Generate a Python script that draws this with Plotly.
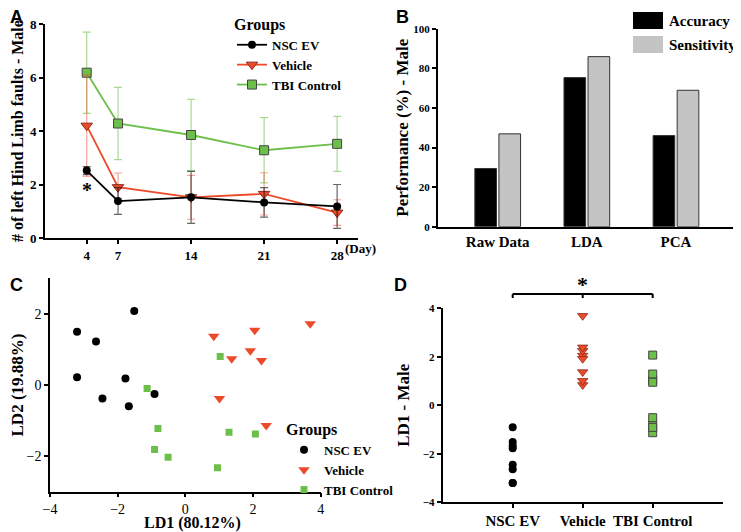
import plotly.graph_objects as go
from plotly.subplots import make_subplots

# panel A - limb faults over days
days = [4, 7, 14, 21, 28]
nsc_mean = [2.52, 1.38, 1.52, 1.33, 1.18]
nsc_err = [0.15, 0.5, 0.97, 0.55, 0.82]
veh_mean = [4.2, 1.9, 1.52, 1.65, 0.95]
veh_err = [1.9, 0.53, 0.82, 0.79, 0.48]
tbi_mean = [6.18, 4.28, 3.85, 3.28, 3.52]
tbi_err = [1.52, 1.35, 1.33, 1.22, 1.03]

# panel B - classifier performance
methods = ['Raw Data', 'LDA', 'PCA']
accuracy = [29.4, 75.3, 46.0]
sensitivity = [46.9, 85.9, 68.9]

# panel C / D - LDA scores
nsc_ld1 = [-3.20, -1.51, -2.64, -3.20, -1.77, -2.45, -1.67, -0.91]
nsc_ld2 = [1.50, 2.08, 1.22, 0.22, 0.18, -0.38, -0.60, -0.25]
veh_ld1 = [0.84, 2.05, 3.69, 1.92, 1.37, 2.25, 1.01, 2.39]
veh_ld2 = [1.37, 1.54, 1.72, 0.96, 0.74, 0.69, -0.38, -1.14]
tbi_ld1 = [1.03, -1.13, -0.81, 1.29, 2.07, -0.91, -0.51, 0.95]
tbi_ld2 = [0.80, -0.10, -1.22, -1.33, -1.38, -1.81, -2.03, -2.33]
groups = ['NSC EV', 'Vehicle', 'TBI Control']

BLACK = '#000000'
RED = '#ec4a2a'
GREEN = '#6cc04a'
SERIF = 'Liberation Serif'
SANS = 'Liberation Sans'

# page body has an 8px margin, so the figure is 8px smaller than the window
W, H, OFF = 733, 524, 8


def px(x):
    return (x - OFF) / W


def py(y):
    return 1 - (y - OFF) / H


fig = make_subplots(rows=2, cols=2)

# A
fig.add_trace(go.Scatter(x=days, y=tbi_mean, name='TBI Control', mode='lines+markers',
                         line=dict(color=GREEN, width=1.8),
                         marker=dict(symbol='square', size=9, color=GREEN, line=dict(color='#444', width=1)),
                         error_y=dict(type='data', array=tbi_err, color='rgba(108,192,74,0.6)', thickness=1.2, width=4),
                         legend='legend', legendrank=3), row=1, col=1)
fig.add_trace(go.Scatter(x=days, y=veh_mean, name='Vehicle', mode='lines+markers',
                         line=dict(color=RED, width=1.8),
                         marker=dict(symbol='triangle-down', size=10, color=RED, line=dict(color='#8a2a18', width=1)),
                         error_y=dict(type='data', array=veh_err, color='rgba(236,74,42,0.5)', thickness=1.2, width=4),
                         legend='legend', legendrank=2), row=1, col=1)
fig.add_trace(go.Scatter(x=days, y=nsc_mean, name='NSC EV', mode='lines+markers',
                         line=dict(color=BLACK, width=1.8),
                         marker=dict(symbol='circle', size=8, color=BLACK),
                         error_y=dict(type='data', array=nsc_err, color='rgba(0,0,0,0.6)', thickness=1.2, width=4),
                         legend='legend', legendrank=1), row=1, col=1)

# B
fig.add_trace(go.Bar(x=methods, y=accuracy, name='Accuracy', marker=dict(color='black', line=dict(color='#333', width=1)),
                     showlegend=False), row=1, col=2)
fig.add_trace(go.Bar(x=methods, y=sensitivity, name='Sensitivity', marker=dict(color='#c4c4c4', line=dict(color='#333', width=1)),
                     showlegend=False), row=1, col=2)

# C
fig.add_trace(go.Scatter(x=nsc_ld1, y=nsc_ld2, name='NSC EV', mode='markers',
                         marker=dict(symbol='circle', size=8, color=BLACK), legend='legend2'), row=2, col=1)
fig.add_trace(go.Scatter(x=veh_ld1, y=veh_ld2, name='Vehicle', mode='markers',
                         marker=dict(symbol='triangle-down', size=10, color=RED), legend='legend2'), row=2, col=1)
fig.add_trace(go.Scatter(x=tbi_ld1, y=tbi_ld2, name='TBI Control', mode='markers',
                         marker=dict(symbol='square', size=7, color=GREEN), legend='legend2'), row=2, col=1)

# D
fig.add_trace(go.Scatter(x=[groups[0]] * len(nsc_ld1), y=nsc_ld1, mode='markers', showlegend=False,
                         marker=dict(symbol='circle', size=8, color=BLACK)), row=2, col=2)
fig.add_trace(go.Scatter(x=[groups[1]] * len(veh_ld1), y=veh_ld1, mode='markers', showlegend=False,
                         marker=dict(symbol='triangle-down', size=9, color=RED, line=dict(color='#8a2a18', width=0.8))), row=2, col=2)
fig.add_trace(go.Scatter(x=[groups[2]] * len(tbi_ld1), y=tbi_ld1, mode='markers', showlegend=False,
                         marker=dict(symbol='square', size=8, color=GREEN, line=dict(color='#444', width=1))), row=2, col=2)

tickf = dict(family=SERIF, size=13, color='black', weight='bold')
titlef = dict(family=SERIF, size=17, color='black', weight='bold')
ax = dict(showgrid=False, zeroline=False, showline=True, linecolor='black', linewidth=2, automargin=False,
          ticks='outside', ticklen=4, tickwidth=1.5, tickcolor='black', tickfont=tickf, tickangle=0)

fig.update_layout(
    width=W, height=H, margin=dict(l=0, r=0, t=0, b=0),
    plot_bgcolor='white', paper_bgcolor='white',
    barmode='group', bargap=0.46, bargroupgap=0.1,
    xaxis=dict(ax, domain=[px(45), px(358)], range=[0, 30], tickvals=days),
    yaxis=dict(ax, domain=[py(238), py(24)], range=[0, 8], dtick=2,
               title=dict(text='# of left Hind Limb faults - Male', font=dict(titlef, size=16), standoff=2)),
    xaxis2=dict(ax, domain=[px(438), px(733)], range=[-0.67, 2.64], ticks='',
                tickfont=dict(family=SERIF, size=15, color='black', weight='bold')),
    yaxis2=dict(ax, domain=[py(226.7), py(28.7)], range=[0, 100], dtick=20,
                tickfont=dict(family=SERIF, size=11, color='black', weight='bold'),
                title=dict(text='Performance (%) - Male', font=titlef, standoff=0)),
    xaxis3=dict(ax, domain=[px(50), px(320.7)], range=[-4, 4], dtick=2, linewidth=1.5,
                tickfont=dict(family=SERIF, size=14, color='black')),
    yaxis3=dict(ax, domain=[py(491.7), py(278.3)], range=[-3, 3], dtick=2, linewidth=1.5,
                tickfont=dict(family=SERIF, size=14, color='black'),
                title=dict(text='LD2 (19.88%)', font=titlef, standoff=7)),
    xaxis4=dict(ax, domain=[px(442.7), px(722.7)], range=[-1, 3], type='category',
                tickfont=dict(family=SERIF, size=15, color='black', weight='bold')),
    yaxis4=dict(ax, domain=[py(502.3), py(308.3)], range=[-4, 4], dtick=2,
                tickfont=dict(family=SERIF, size=11, color='black', weight='bold'),
                title=dict(text='LD1 - Male', font=titlef, standoff=9)),
    legend=dict(x=px(232), y=py(9), xanchor='left', yanchor='top', bgcolor='rgba(0,0,0,0)',
                title=dict(text='Groups', font=dict(family=SERIF, size=16, color='black', weight='bold')),
                font=dict(family=SERIF, size=13, color='black', weight='bold'), itemwidth=30,
                traceorder='normal'),
    legend2=dict(x=px(284), y=py(414), xanchor='left', yanchor='top', bgcolor='rgba(0,0,0,0)',
                 title=dict(text='Groups', font=dict(family=SERIF, size=16, color='black', weight='bold')),
                 font=dict(family=SERIF, size=13, color='black', weight='bold'), itemwidth=30),
)

# C x-axis title, placed directly so it clears the tick labels
fig.add_annotation(text='LD1 (80.12%)', x=px(192), y=py(523), xref='paper', yref='paper',
                   xanchor='center', yanchor='middle', showarrow=False, font=dict(titlef, size=16))

# panel letters
for letter, lx, ly in [('A', 16, 17), ('B', 402, 17), ('C', 16, 285), ('D', 400, 285)]:
    fig.add_annotation(text=letter, x=px(lx), y=py(ly), xref='paper', yref='paper',
                       xanchor='center', yanchor='middle', showarrow=False,
                       font=dict(family=SANS, size=18, color='black', weight='bold'))

# A extras
fig.add_annotation(text='(Day)', x=px(343), y=py(248), xref='paper', yref='paper',
                   xanchor='left', yanchor='middle', showarrow=False,
                   font=dict(family=SERIF, size=13, color='black', weight='bold'))
fig.add_annotation(text='*', x=4, y=1.8, xref='x', yref='y', showarrow=False,
                   font=dict(family=SERIF, size=20, color='black', weight='bold'))

# B legend
for name, col, ly in [('Accuracy', 'black', 12), ('Sensitivity', '#c4c4c4', 36)]:
    fig.add_shape(type='rect', xref='paper', yref='paper', x0=px(633), x1=px(663),
                  y0=py(ly + 17), y1=py(ly), fillcolor=col, line=dict(width=0))
    fig.add_annotation(text=name, x=px(667), y=py(ly + 9), xref='paper', yref='paper',
                       xanchor='left', yanchor='middle', showarrow=False,
                       font=dict(family=SERIF, size=15, color='black', weight='bold'))

# D significance bracket
yb, yt = py(298), py(294)
fig.add_shape(type='line', xref='x4', yref='paper', x0=0, x1=2, y0=yt, y1=yt, line=dict(color='black', width=2))
for gx in [0, 1, 2]:
    fig.add_shape(type='line', xref='x4', yref='paper', x0=gx, x1=gx, y0=yb, y1=yt, line=dict(color='black', width=2))
fig.add_annotation(text='*', x=1, y=py(284), xref='x4', yref='paper', xanchor='center', yanchor='middle',
                   showarrow=False, font=dict(family=SERIF, size=22, color='black', weight='bold'))

fig.write_html('out.html')
